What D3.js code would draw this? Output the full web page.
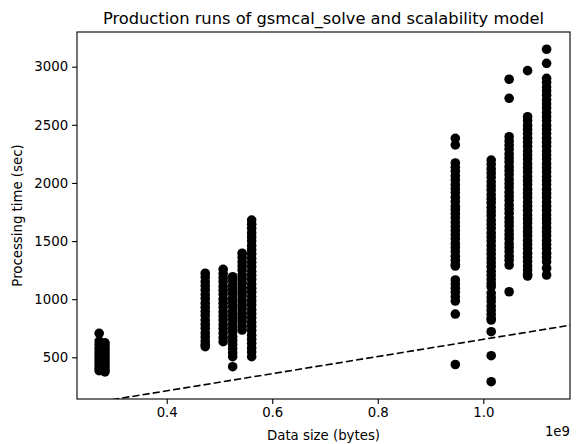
<!DOCTYPE html>
<html>
<head>
<meta charset="utf-8">
<script src="https://cdn.jsdelivr.net/npm/d3@7"></script>
<style>
  html, body { margin: 0; padding: 0; background: #fff; }
  svg text { font-family: "DejaVu Sans", sans-serif; fill: #000; }
</style>
</head>
<body>
<svg id="chart" width="578" height="444"></svg>
<script>
// ---- data ----
const dataSizes = [0.272e9, 0.283e9, 0.473e9, 0.507e9, 0.525e9, 0.543e9, 0.561e9,
                   0.947e9, 1.015e9, 1.049e9, 1.084e9, 1.120e9];
const runTimes = [
  [706, 640, 610, 580, 555, 530, 505, 480, 455, 430, 405, 385],
  [625, 600, 570, 545, 520, 495, 470, 445, 420, 395, 375],
  [1223, 1190, 1150, 1115, 1080, 1040, 1005, 965, 930, 895, 860, 820, 785, 750, 710, 675, 640, 610, 591],
  [1257, 1220, 1185, 1150, 1110, 1075, 1040, 1000, 965, 930, 890, 855, 820, 780, 745, 710, 670, 634],
  [1193, 1160, 1120, 1085, 1050, 1010, 975, 940, 900, 865, 830, 790, 755, 720, 680, 645, 610, 575, 540, 505, 419],
  [1395, 1360, 1320, 1285, 1250, 1210, 1175, 1140, 1100, 1065, 1030, 990, 955, 920, 880, 845, 810, 770, 735],
  [1681, 1645, 1610, 1570, 1535, 1500, 1460, 1425, 1390, 1350, 1315, 1280, 1240, 1205, 1170, 1130, 1095, 1060,
   1020, 985, 950, 910, 875, 840, 800, 765, 730, 690, 655, 620, 580, 545, 505],
  [2384, 2327, 2172, 2135, 2100, 2060, 2025, 1985, 1950, 1915, 1875, 1840, 1800, 1770, 1735, 1700, 1660, 1625,
   1590, 1555, 1520, 1480, 1445, 1410, 1370, 1335, 1300, 1285, 1165, 1130, 1095, 1060, 1020, 984, 872, 438],
  [2197, 2160, 2120, 2085, 2050, 2010, 1975, 1940, 1900, 1865, 1830, 1790, 1755, 1720, 1680, 1645, 1610, 1570,
   1535, 1500, 1460, 1425, 1390, 1350, 1315, 1280, 1240, 1205, 1170, 1135, 1107, 1053, 1015, 980, 940, 905,
   870, 835, 821, 720, 514, 290],
  [2892, 2728, 2398, 2360, 2325, 2290, 2250, 2215, 2180, 2140, 2105, 2070, 2030, 1995, 1960, 1920, 1885, 1850,
   1810, 1775, 1740, 1700, 1665, 1630, 1590, 1555, 1520, 1480, 1445, 1410, 1370, 1335, 1294, 1064],
  [2966, 2570, 2535, 2495, 2460, 2425, 2385, 2350, 2315, 2275, 2240, 2205, 2165, 2130, 2095, 2055, 2020, 1985,
   1945, 1910, 1875, 1835, 1800, 1765, 1725, 1690, 1655, 1615, 1580, 1545, 1505, 1470, 1435, 1395, 1360, 1325,
   1285, 1250, 1215, 1199],
  [3150, 3029, 2900, 2865, 2825, 2790, 2755, 2715, 2680, 2645, 2605, 2570, 2535, 2495, 2460, 2425, 2385, 2350,
   2315, 2275, 2240, 2205, 2165, 2130, 2095, 2055, 2020, 1985, 1945, 1910, 1875, 1835, 1800, 1765, 1725, 1690,
   1655, 1615, 1580, 1545, 1505, 1470, 1435, 1395, 1360, 1322, 1266, 1208]
];
const modelSizes = [0.2e9, 1.2e9];
const modelTimes = [64, 802];
const xTicks = [0.4e9, 0.6e9, 0.8e9, 1.0e9];
const xTickLabels = ["0.4", "0.6", "0.8", "1.0"];
const yTicks = [500, 1000, 1500, 2000, 2500, 3000];
const titleText = "Production runs of gsmcal_solve and scalability model";
const xLabel = "Data size (bytes)";
const yLabel = "Processing time (sec)";
const offsetText = "1e9";

// ---- layout ----
const W = 578, H = 444;
const m = { left: 77, right: 8, top: 32, bottom: 45 };
const iw = W - m.left - m.right, ih = H - m.top - m.bottom;

const points = [];
dataSizes.forEach((s, i) => runTimes[i].forEach(t => points.push([s, t])));

const x = d3.scaleLinear().domain([0.22995e9, 1.16436e9]).range([0, iw]);
const y = d3.scaleLinear().domain([141.3, 3298.5]).range([ih, 0]);

const svg = d3.select("#chart");
svg.append("defs").append("clipPath").attr("id", "clip")
  .append("rect").attr("width", iw).attr("height", ih);

const g = svg.append("g").attr("transform", `translate(${m.left},${m.top})`);

// model line
const modelData = modelSizes.map((s, i) => [s, modelTimes[i]]);
g.append("path")
  .datum(modelData)
  .attr("clip-path", "url(#clip)")
  .attr("fill", "none")
  .attr("stroke", "#000")
  .attr("stroke-width", 1.6)
  .attr("stroke-dasharray", "7.2,3.1")
  .attr("d", d3.line().x(d => x(d[0])).y(d => y(d[1])));

// points
g.append("g").attr("clip-path", "url(#clip)")
  .selectAll("circle").data(points).join("circle")
  .attr("cx", d => x(d[0]))
  .attr("cy", d => y(d[1]))
  .attr("r", 4.8)
  .attr("fill", "#000");

// axes
const fs = 13.3;
const xAxis = d3.axisBottom(x).tickValues(xTicks).tickFormat((d, i) => xTickLabels[i])
  .tickSizeInner(4.9).tickSizeOuter(0).tickPadding(4);
const yAxis = d3.axisLeft(y).tickValues(yTicks).tickFormat(d3.format("d"))
  .tickSizeInner(4.9).tickSizeOuter(0).tickPadding(4);

const gx = g.append("g").attr("transform", `translate(0,${ih})`).call(xAxis);
const gy = g.append("g").call(yAxis);
[gx, gy].forEach(a => {
  a.select(".domain").remove();
  a.selectAll("line").attr("stroke", "#000").attr("stroke-width", 1.1);
  a.selectAll("text").attr("font-size", fs).attr("font-family", "DejaVu Sans").attr("fill", "#000");
});

// frame
g.append("rect").attr("width", iw).attr("height", ih)
  .attr("fill", "none").attr("stroke", "#000").attr("stroke-width", 1.1);

// labels
svg.append("text").attr("x", m.left + iw / 2).attr("y", 23.5)
  .attr("text-anchor", "middle").attr("font-size", 16.3).text(titleText);
svg.append("text").attr("x", m.left + iw / 2).attr("y", 440)
  .attr("text-anchor", "middle").attr("font-size", fs).text(xLabel);
svg.append("text").attr("transform", `translate(22,${m.top + ih / 2}) rotate(-90)`)
  .attr("text-anchor", "middle").attr("font-size", fs).text(yLabel);
svg.append("text").attr("x", m.left + iw).attr("y", 436)
  .attr("text-anchor", "end").attr("font-size", fs).text(offsetText);
</script>
</body>
</html>
